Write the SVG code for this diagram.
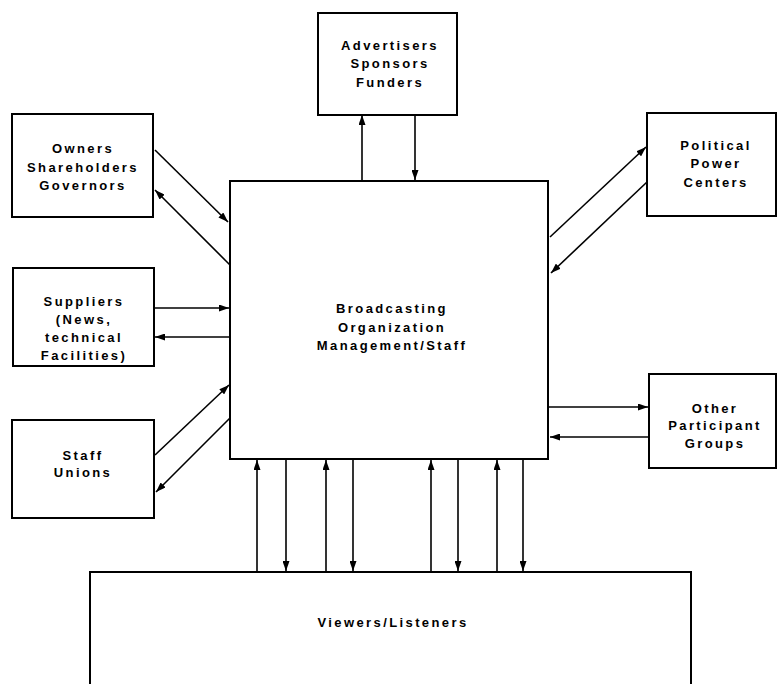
<svg xmlns="http://www.w3.org/2000/svg" width="782" height="684" viewBox="0 0 782 684">
<style>
.box{fill:#fff;stroke:#000;stroke-width:2}
.lbl{font-family:"Liberation Sans",Arial,sans-serif;font-weight:bold;font-size:13px;letter-spacing:2.4px;text-anchor:middle;fill:#000}
.arr{stroke:#000;stroke-width:1.6;fill:none;marker-end:url(#ah)}
</style>
<defs>
<marker id="ah" markerUnits="userSpaceOnUse" markerWidth="10" markerHeight="7" refX="10" refY="3.5" orient="auto">
<path d="M0,0 L10,3.5 L0,7 z" fill="#000"/>
</marker>
</defs>
<rect width="782" height="684" fill="#fff"/>
<g id="connectors">
<line class="arr" x1="362" y1="181" x2="362" y2="115"/>
<line class="arr" x1="415" y1="115" x2="415" y2="180"/>
<line class="arr" x1="155" y1="150" x2="228" y2="222"/>
<line class="arr" x1="230" y1="265" x2="155" y2="190"/>
<line class="arr" x1="154" y1="308" x2="229" y2="308"/>
<line class="arr" x1="230" y1="337" x2="155" y2="337"/>
<line class="arr" x1="155" y1="455" x2="229" y2="385"/>
<line class="arr" x1="230" y1="418" x2="156" y2="492"/>
<line class="arr" x1="550" y1="237" x2="646" y2="147"/>
<line class="arr" x1="647" y1="182" x2="551" y2="273"/>
<line class="arr" x1="549" y1="407" x2="648" y2="407"/>
<line class="arr" x1="649" y1="437" x2="550" y2="437"/>
<line class="arr" x1="257" y1="572" x2="257" y2="460"/>
<line class="arr" x1="326" y1="572" x2="326" y2="460"/>
<line class="arr" x1="431" y1="572" x2="431" y2="460"/>
<line class="arr" x1="497" y1="572" x2="497" y2="460"/>
<line class="arr" x1="286" y1="460" x2="286" y2="571"/>
<line class="arr" x1="353" y1="460" x2="353" y2="571"/>
<line class="arr" x1="458" y1="460" x2="458" y2="571"/>
<line class="arr" x1="523" y1="460" x2="523" y2="571"/>
</g>
<g id="broadcasting">
<rect class="box" x="230" y="181" width="318" height="278"/>
<text class="lbl" x="392" y="313">Broadcasting</text>
<text class="lbl" x="392" y="332">Organization</text>
<text class="lbl" x="392" y="350">Management/Staff</text>
</g>
<g id="advertisers">
<rect class="box" x="318" y="13" width="139" height="102"/>
<text class="lbl" x="390" y="50">Advertisers</text>
<text class="lbl" x="390" y="68">Sponsors</text>
<text class="lbl" x="390" y="87">Funders</text>
</g>
<g id="owners">
<rect class="box" x="12" y="114" width="141" height="103"/>
<text class="lbl" x="83" y="153">Owners</text>
<text class="lbl" x="83" y="172">Shareholders</text>
<text class="lbl" x="83" y="190">Governors</text>
</g>
<g id="suppliers">
<rect class="box" x="13" y="268" width="141" height="98"/>
<text class="lbl" x="84" y="306">Suppliers</text>
<text class="lbl" x="84" y="324">(News,</text>
<text class="lbl" x="84" y="342">technical</text>
<text class="lbl" x="84" y="360">Facilities)</text>
</g>
<g id="staff-unions">
<rect class="box" x="12" y="420" width="142" height="98"/>
<text class="lbl" x="83" y="460">Staff</text>
<text class="lbl" x="83" y="477">Unions</text>
</g>
<g id="political">
<rect class="box" x="647" y="113" width="129" height="103"/>
<text class="lbl" x="716" y="150">Political</text>
<text class="lbl" x="716" y="168">Power</text>
<text class="lbl" x="716" y="187">Centers</text>
</g>
<g id="other">
<rect class="box" x="649" y="374" width="127" height="94"/>
<text class="lbl" x="715" y="413">Other</text>
<text class="lbl" x="715" y="430">Participant</text>
<text class="lbl" x="715" y="448">Groups</text>
</g>
<g id="viewers">
<path class="box" d="M90,690 L90,572 L691,572 L691,690"/>
<text class="lbl" x="393" y="627">Viewers/Listeners</text>
</g>
</svg>
